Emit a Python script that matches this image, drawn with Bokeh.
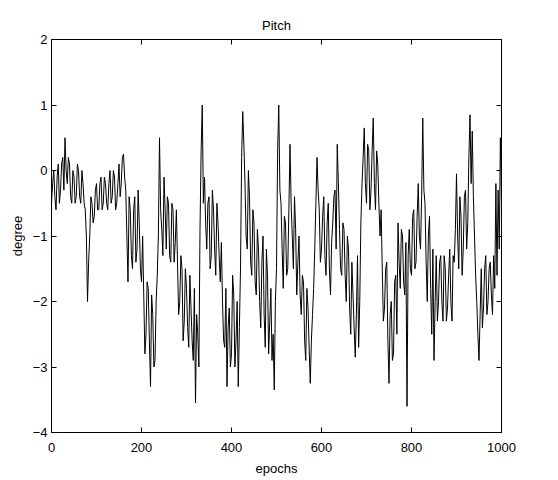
from bokeh.plotting import figure
from bokeh.models import FixedTicker, LinearAxis, Range1d
from bokeh.embed import file_html
from bokeh.resources import INLINE

# readings every 5 epochs
epochs = [e * 5 for e in range(201)]
pitch = [
    -0.5, 0.0, -0.6, 0.1, -0.3, 0.2, 0.5, -0.2, 0.1, -0.5,
    -0.1, -0.4, 0.0, -0.5, -0.2, -0.6, -2.0, -1.0, -0.5, -0.7,
    -0.2, -0.6, -0.1, -0.5, -0.2, -0.6, 0.0, -0.4, -0.1, -0.5,
    0.1, -0.2, 0.25, -0.3, -1.7, -0.6, -1.5, -0.4, -1.2, -0.8,
    -1.7, -1.9, -2.5, -1.8, -3.3, -2.2, -2.9, -1.6, 0.5, -0.9,
    -0.1, -1.2, -0.5, -1.4, -0.6, -1.1, -1.4, -2.0, -1.5, -2.3,
    -1.8, -2.7, -2.1, -2.9, -3.55, -2.5, -0.9, 1.0, -0.1, -1.2,
    -0.4, -1.3, -0.6, -1.6, -0.8, -1.7, -2.0, -2.7, -3.3, -2.1,
    -2.8, -1.9, -2.6, -3.3, -1.5, 0.9, -0.2, -1.2, -0.4, -1.6,
    -0.8, -1.9, -1.2, -2.4, -1.0, -2.7, -1.6, -2.3, -2.9, -3.35,
    -1.5, 1.0, -0.5, -1.8, -0.8, -1.5, 0.4, -1.0, -0.4, -1.9,
    -1.0, -2.2, -1.7, -2.9, -2.1, -3.25, -2.2, -1.2, 0.2, -0.6,
    -1.2, -0.4, -1.6, -0.5, -1.9, -0.8, -0.3, 0.4, -0.9, -1.6,
    -0.9, -2.0, -1.2, -2.5, -1.9, -2.85, -1.3, -2.0, -0.2, 0.65,
    -0.5, 0.3, -0.3, 0.8, -0.6, 0.1, -1.0, -1.5, -2.1, -1.4,
    -3.25, -2.0, -2.8, -1.6, -0.8, -1.8, -1.0, -1.9, -3.6, -0.9,
    -1.6, -0.6, -1.4, -0.2, -1.2, 0.8, -0.5, -2.0, -0.7, -2.5,
    -2.9, -1.3, -2.0, -1.3, -2.3, -1.5, -2.1, -1.2, -2.3, -1.4,
    -0.05, -1.5, -0.7, -1.2, -0.3, -0.8, 0.85, 0.6, -1.0, -2.0,
    -2.9, -1.5, -2.1, -1.3, -2.0, -1.4, -2.2, -1.8, -1.6, -1.2,
    -0.5,
]
# readings half-way between (epochs 2.5, 7.5, ...)
epochs_mid = [e * 5 + 2.5 for e in range(200)]
pitch_mid = [
    -0.2, -0.4, -0.1, -0.5, 0.1, -0.3, 0.0, 0.2, -0.4, 0.0,
    -0.5, 0.1, -0.4, 0.0, -0.5, -1.0, -1.4, -0.4, -0.8, -0.3,
    -0.6, -0.2, -0.6, -0.1, -0.5, -0.2, -0.5, 0.0, -0.6, -0.2,
    -0.4, 0.2, -0.1, -1.0, -0.4, -1.3, -0.6, -1.4, -0.3, -1.5,
    -1.0, -2.8, -1.7, -2.6, -1.9, -3.0, -2.0, -1.0, -0.6, -1.3,
    -0.6, -0.4, -1.3, -0.5, -1.4, -0.6, -2.2, -1.3, -2.6, -1.5,
    -2.4, -1.6, -2.6, -1.8, -2.2, -3.0, 0.3, -0.5, -0.8, -0.5,
    -1.5, -0.3, -1.2, -0.5, -1.3, -1.1, -2.6, -1.8, -2.4, -3.0,
    -1.6, -3.0, -2.0, -2.4, 0.2, 0.4, -1.0, 0.0, -1.4, -0.6,
    -1.7, -0.9, -2.0, -1.4, -2.2, -1.2, -2.8, -1.8, -2.5, -2.0,
    0.3, -0.3, -1.2, -0.7, -1.6, -0.6, -0.5, -1.5, -0.9, -1.4,
    -1.9, -1.6, -2.6, -1.8, -2.7, -2.6, -1.8, -0.5, -0.3, -1.4,
    -0.7, -1.3, -0.8, -1.5, -1.1, -0.4, -1.2, -0.2, -1.5, -0.8,
    -1.6, -1.0, -2.1, -1.4, -2.4, -2.2, -2.7, -0.8, 0.2, -0.2,
    0.4, -0.6, 0.3, -0.2, 0.3, -0.5, -0.6, -2.3, -1.5, -2.6,
    -2.2, -2.9, -1.7, -2.5, -1.4, -0.9, -1.7, -1.1, -1.3, -1.5,
    -0.7, -1.5, -0.7, -1.0, -0.4, -0.3, -1.4, -1.0, -1.8, -1.2,
    -2.0, -2.3, -1.4, -2.0, -1.3, -2.3, -1.6, -2.0, -1.3, -0.9,
    -1.0, -0.4, -1.6, -0.4, -1.2, 0.2, -0.2, -0.4, -1.6, -2.5,
    -2.2, -2.4, -1.5, -2.2, -1.5, -1.9, -1.3, -0.2, -0.3, 0.5,
]
x_ticks = [0, 200, 400, 600, 800, 1000]
y_ticks = [-4, -3, -2, -1, 0, 1, 2]

xs, ys = [], []
for i in range(len(epochs_mid)):
    xs += [epochs[i], epochs_mid[i]]
    ys += [pitch[i], pitch_mid[i]]
xs.append(epochs[-1])
ys.append(pitch[-1])

FONT = "Liberation Sans"

p = figure(width=550, height=478, output_backend="svg", toolbar_location=None,
           x_range=Range1d(0, 1000), y_range=Range1d(-4, 2),
           title="Pitch", x_axis_label="epochs", y_axis_label="degree",
           min_border_left=51, min_border_right=49, min_border_top=39,
           min_border_bottom=46)
p.title.align = "center"
p.title.vertical_align = "top"
p.title.text_font = FONT
p.title.text_font_size = "13px"
p.title.text_font_style = "normal"
p.title.text_color = "black"
p.title.standoff = 10
p.xgrid.visible = False
p.ygrid.visible = False
p.outline_line_color = "black"
p.outline_line_width = 1

p.line(xs, ys, line_color="black", line_width=1)

for ax in (p.xaxis[0], p.yaxis[0]):
    ax.major_tick_in = 5
    ax.major_tick_out = 0
    ax.minor_tick_in = 0
    ax.minor_tick_out = 0
    ax.axis_line_color = "black"
    ax.major_tick_line_color = "black"
    ax.major_label_text_font = FONT
    ax.major_label_text_font_size = "13px"
    ax.major_label_text_color = "black"
    ax.axis_label_text_font = FONT
    ax.axis_label_text_font_size = "13px"
    ax.axis_label_text_font_style = "normal"
    ax.axis_label_text_color = "black"
p.xaxis[0].major_label_standoff = 10
p.xaxis[0].axis_label_standoff = 6
p.yaxis[0].major_label_standoff = 4
p.yaxis[0].axis_label_standoff = 5
p.xaxis[0].ticker = FixedTicker(ticks=x_ticks)
p.yaxis[0].ticker = FixedTicker(ticks=y_ticks)

top = LinearAxis(ticker=FixedTicker(ticks=x_ticks), major_label_text_color=None,
                 major_label_text_font_size="1px",
                 major_tick_in=5, major_tick_out=0, minor_tick_in=0, minor_tick_out=0,
                 major_label_standoff=0, axis_line_color="black")
right = LinearAxis(ticker=FixedTicker(ticks=y_ticks), major_label_text_color=None,
                   major_label_text_font_size="1px",
                   major_tick_in=5, major_tick_out=0, minor_tick_in=0, minor_tick_out=0,
                   major_label_standoff=0, axis_line_color="black")
p.add_layout(top, "above")
p.add_layout(right, "right")

open("out.html", "w").write(file_html(p, INLINE))
